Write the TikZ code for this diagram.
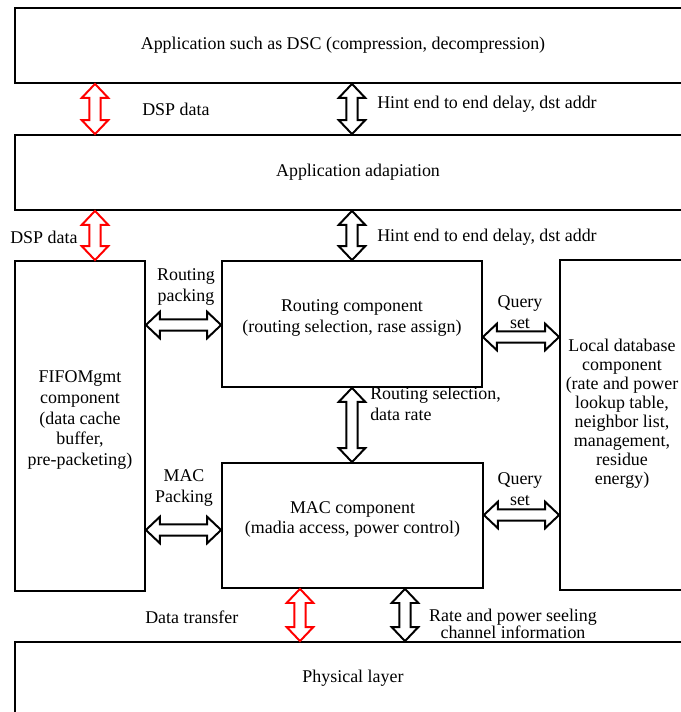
\documentclass[tikz,border=0pt]{standalone}
\usepackage{fontspec}
\setmainfont{Liberation Serif}
\usetikzlibrary{calc,fit}

\tikzset{
  box/.style={draw, line width=1.3pt, inner sep=0pt, align=center},
  lbl/.style={inner sep=0pt, align=center},
  varrow/.style={draw=#1, fill=white, line width=1.4pt, line join=miter,
    to path={let \p1=(\tikztostart), \p2=(\tikztotarget) in
      (\x1,\y1) -- (\x1+9.5pt,\y1-10pt) -- (\x1+4pt,\y1-10pt) -- (\x1+4pt,\y2+10pt)
      -- (\x1+9.5pt,\y2+10pt) -- (\x1,\y2) -- (\x1-9.5pt,\y2+10pt) -- (\x1-4pt,\y2+10pt)
      -- (\x1-4pt,\y1-10pt) -- (\x1-9.5pt,\y1-10pt) -- cycle}},
  varrow/.default=black,
  harrow/.style={draw=#1, fill=white, line width=1.4pt, line join=miter,
    to path={let \p1=(\tikztostart), \p2=(\tikztotarget) in
      (\x1,\y1) -- (\x1+10pt,\y1+9.5pt) -- (\x1+10pt,\y1+4pt) -- (\x2-10pt,\y1+4pt)
      -- (\x2-10pt,\y1+9.5pt) -- (\x2,\y1) -- (\x2-10pt,\y1-9.5pt) -- (\x2-10pt,\y1-4pt)
      -- (\x1+10pt,\y1-4pt) -- (\x1+10pt,\y1-9.5pt) -- cycle}},
  harrow/.default=black
}

\begin{document}
\begin{tikzpicture}[x=0.025cm, y=-0.025cm, font=\fontsize{12.75}{14.7}\selectfont]
  \useasboundingbox (0,0) rectangle (681,712);
  \clip (0,0) rectangle (681,712);

  % layers
  \node[box, fit={(15,8) (720,83)}] (app) {};
  \node[box, fit={(15,135) (720,210)}] (adapt) {};
  \node[box, fit={(15,642) (720,740)}] (phy) {};
  \node[lbl] at (343,45) {Application such as DSC (compression, decompression)};
  \node[lbl] at (358,172) {Application adapiation};
  \node[lbl] at (353,678) {Physical layer};

  % components
  \node[box, fit={(15,261) (145,591)}] (fifo) {FIFOMgmt\\component\\(data cache\\buffer,\\pre-packeting)};
  \node[box, fit={(222,261) (482,387)}] (rout) {Routing component\\(routing selection, rase assign)};
  \node[box, fit={(222,463) (483,588)}] (mac) {MAC component\\(madia access, power control)};
  \node[box, fit={(560,260) (720,590)}] (db) {};
  \node[lbl, font=\fontsize{12.75}{13.5}\selectfont] at (622,414) {Local database\\component\\(rate and power\\lookup table,\\neighbor list,\\management,\\residue\\energy)};

  % x / y positions of the arrows
  \coordinate (xa) at (95,0);
  \coordinate (xb) at (352,0);
  \coordinate (xc) at (300,0);
  \coordinate (xd) at (405,0);
  \coordinate (ya) at (0,325);
  \coordinate (yb) at (0,337);
  \coordinate (yc) at (0,530);
  \coordinate (yd) at (0,515);

  % vertical arrows
  \draw[varrow=red] (app.south -| xa) to (adapt.north -| xa);
  \draw[varrow] (app.south -| xb) to (adapt.north -| xb);
  \draw[varrow=red] (adapt.south -| xa) to (fifo.north -| xa);
  \draw[varrow] (adapt.south -| xb) to (rout.north -| xb);
  \draw[varrow] (rout.south -| xb) to (mac.north -| xb);
  \draw[varrow=red] (mac.south -| xc) to (phy.north -| xc);
  \draw[varrow] (mac.south -| xd) to (phy.north -| xd);

  % horizontal arrows
  \draw[harrow] (fifo.east |- ya) to (rout.west |- ya);
  \draw[harrow] (rout.east |- yb) to (db.west |- yb);
  \draw[harrow] (fifo.east |- yc) to (mac.west |- yc);
  \draw[harrow] (mac.east |- yd) to (db.west |- yd);

  % arrow labels
  \node[lbl, anchor=west] at (142,109) {DSP data};
  \node[lbl, anchor=west] at (377,104) {Hint end to end delay, dst addr};
  \node[lbl, anchor=west] at (10,237) {DSP data};
  \node[lbl, anchor=west] at (377,237) {Hint end to end delay, dst addr};
  \node[lbl] at (186,287) {Routing\\packing};
  \node[lbl] at (520,312) {Query\\set};
  \node[lbl, anchor=west, align=left] at (370,404) {Routing selection,\\data rate};
  \node[lbl] at (184,488) {MAC\\Packing};
  \node[lbl] at (520,489) {Query\\set};
  \node[lbl, anchor=west] at (145,617) {Data transfer};
  \node[lbl, font=\fontsize{12.75}{12}\selectfont] at (513,624) {Rate and power seeling\\channel information};
\end{tikzpicture}
\end{document}
